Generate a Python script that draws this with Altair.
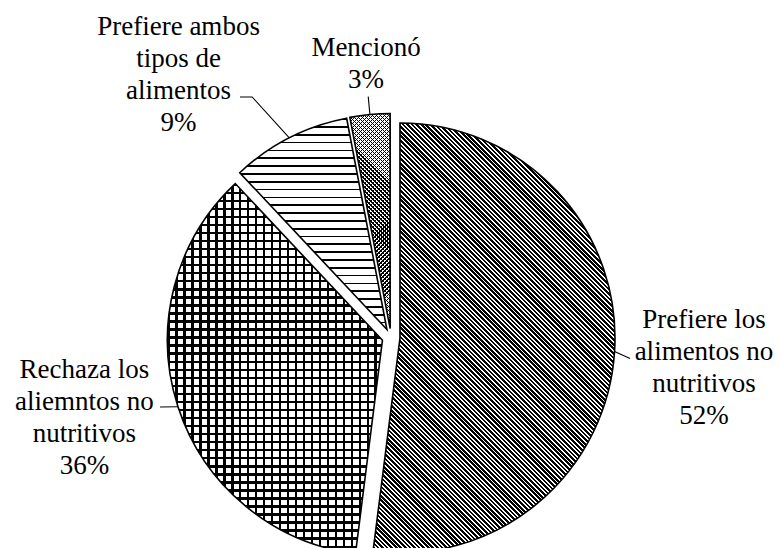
import math

import altair as alt
import pandas as pd

# ---- data -------------------------------------------------------------
categories = [
    "Prefiere los alimentos no nutritivos",
    "Rechaza los aliemntos no nutritivos",
    "Prefiere ambos tipos de alimentos",
    "Mencionó",
]
label_lines = [
    ["Prefiere los", "alimentos no", "nutritivos"],
    ["Rechaza los", "aliemntos no", "nutritivos"],
    ["Prefiere ambos", "tipos de", "alimentos"],
    ["Mencionó"],
]
percentages = [52, 36, 9, 3]

# ---- layout -----------------------------------------------------------
W, H = 780, 548
CX, CY = 391, 337.5      # pie centre (px)
R = 215                  # pie radius (px)
EXPLODE = 9              # radial offset of every slice (px)
FONT = "Liberation Serif, Times New Roman, serif"
FONT_SIZE = 27
LINE_H = 32

# label placement: angle nudge from slice bisector (deg) and distance from centre
label_nudge = [2.0, 3.3, -12.0, 0.2]
label_radius = [314.5, 317.0, 337.6, 274.6]
# leader lines: (angle nudge deg, radius) from exploded slice centre
leader_pts = [
    [(0, R), (1.5, 231)],
    [(0, R), (1.3, 232.2)],
    [(0, R), (-3.1, 268.8), (-5.3, 275)],
    [(0, R), (0, 233)],
]

total = sum(percentages)
starts = [sum(percentages[:i]) for i in range(len(percentages))]
mids = [(s + v / 2) / total * 2 * math.pi for s, v in zip(starts, percentages)]

df = pd.DataFrame({"cat": categories, "pct": percentages, "order": range(len(categories))})


# ---- fill patterns built from linear gradients -----------------------
def sector_bbox(a0, a1):
    pts = [(0.0, 0.0)]
    n = 400
    for i in range(n + 1):
        a = a0 + (a1 - a0) * i / n
        pts.append((R * math.sin(a), -R * math.cos(a)))
    xs = [p[0] for p in pts]
    ys = [p[1] for p in pts]
    return max(xs) - min(xs), max(ys) - min(ys)


def gradient(n, ink_frac, x1, y1, x2, y2, ink="black", paper="white"):
    stops = []
    for i in range(n):
        a, b, c = i / n, (i + ink_frac) / n, (i + 1) / n
        stops += [(a, ink), (b, ink), (b, paper), (c, paper)]
    return alt.LinearGradient(
        gradient="linear",
        stops=[alt.GradientStop(offset=round(o, 6), color=col) for o, col in stops],
        x1=x1, y1=y1, x2=x2, y2=y2,
    )


def diag_down(bw, bh, period, frac, paper="white"):
    # stripes running top-left to bottom-right
    k = (bw + bh) / (bw ** 2 + bh ** 2)
    n = math.ceil((bw + bh) / period)
    return gradient(n, frac, 0, 1, k * bw, 1 - k * bh, paper=paper)


def diag_up(bw, bh, period, frac, paper="white"):
    # stripes running bottom-left to top-right
    k = (bw + bh) / (bw ** 2 + bh ** 2)
    n = math.ceil((bw + bh) / period)
    return gradient(n, frac, 0, 0, k * bw, k * bh, paper=paper)


def horiz(bh, period, frac, paper="white"):
    return gradient(math.ceil(bh / period), frac, 0, 0, 0, 1, paper=paper)


def vert(bw, period, frac, paper="white"):
    return gradient(math.ceil(bw / period), frac, 0, 0, 1, 0, paper=paper)


angles = [(s / total * 2 * math.pi, (s + v) / total * 2 * math.pi) for s, v in zip(starts, percentages)]
boxes = [sector_bbox(a0, a1) for a0, a1 in angles]

patterns = [
    [diag_down(*boxes[0], 4.6, 0.6)],
    [horiz(boxes[1][1], 8.2, 0.3), vert(boxes[1][0], 8.2, 0.3, paper="transparent")],
    [horiz(boxes[2][1], 8.0, 0.22)],
    [diag_down(*boxes[3], 4.0, 0.3), diag_up(*boxes[3], 4.0, 0.3, paper="transparent")],
]

# ---- slices -----------------------------------------------------------
theta_scale = alt.Scale(domain=[0, total], range=[0, 2 * math.pi])

base = alt.Chart(df).transform_window(
    cum="sum(pct)", sort=[alt.SortField("order")], frame=[None, 0]
).transform_calculate(
    start="datum.cum - datum.pct",
    ang=f"(datum.cum - datum.pct / 2) / {total} * 2 * PI",
).transform_calculate(
    px=f"{CX} + {EXPLODE} * sin(datum.ang)",
    py=f"{CY} - {EXPLODE} * cos(datum.ang)",
)

enc = dict(
    theta=alt.Theta("start:Q", scale=theta_scale),
    theta2=alt.Theta2("cum:Q"),
    x=alt.X("px:Q", scale=None, axis=None),
    y=alt.Y("py:Q", scale=None, axis=None),
)

layers = []
for cat, fills in zip(categories, patterns):
    for j, fill in enumerate(fills):
        last = j == len(fills) - 1
        props = dict(outerRadius=R, fill=fill)
        if last:
            props.update(stroke="black", strokeWidth=1.6)
        layers.append(
            base.transform_filter(alt.datum.cat == cat).mark_arc(**props).encode(**enc)
        )

# ---- leader lines -----------------------------------------------------
rows = []
for i, pts in enumerate(leader_pts):
    ox = CX + EXPLODE * math.sin(mids[i])
    oy = CY - EXPLODE * math.cos(mids[i])
    for j, (da, r) in enumerate(pts):
        a = mids[i] + math.radians(da)
        rows.append({"cat": categories[i], "seq": j,
                     "lx": ox + r * math.sin(a), "ly": oy - r * math.cos(a)})
leaders = alt.Chart(pd.DataFrame(rows)).mark_line(
    color="black", strokeWidth=1.1
).encode(
    x=alt.X("lx:Q", scale=None, axis=None),
    y=alt.Y("ly:Q", scale=None, axis=None),
    detail="cat:N",
    order="seq:Q",
)

# ---- labels (block centred on the anchor point) ----------------------
lab = []
for i, cat in enumerate(categories):
    a = mids[i] + math.radians(label_nudge[i])
    lines = label_lines[i] + [f"{percentages[i]}%"]
    lab.append({
        "cat": cat,
        "text": "\n".join(lines),
        "tx": CX + label_radius[i] * math.sin(a),
        "ty": CY - label_radius[i] * math.cos(a) - (len(lines) - 1) / 2 * LINE_H,
    })
labels = alt.Chart(pd.DataFrame(lab)).mark_text(
    font=FONT, fontSize=FONT_SIZE, lineHeight=LINE_H, align="center", baseline="middle",
    lineBreak="\n", color="black",
).encode(
    x=alt.X("tx:Q", scale=None, axis=None),
    y=alt.Y("ty:Q", scale=None, axis=None),
    text="text:N",
)

chart = alt.layer(*layers, leaders, labels).properties(
    width=W, height=H, padding=0, autosize="none", background="white"
).configure_view(stroke=None)

chart.save("out.html", embed_options={"renderer": "svg", "actions": False})
